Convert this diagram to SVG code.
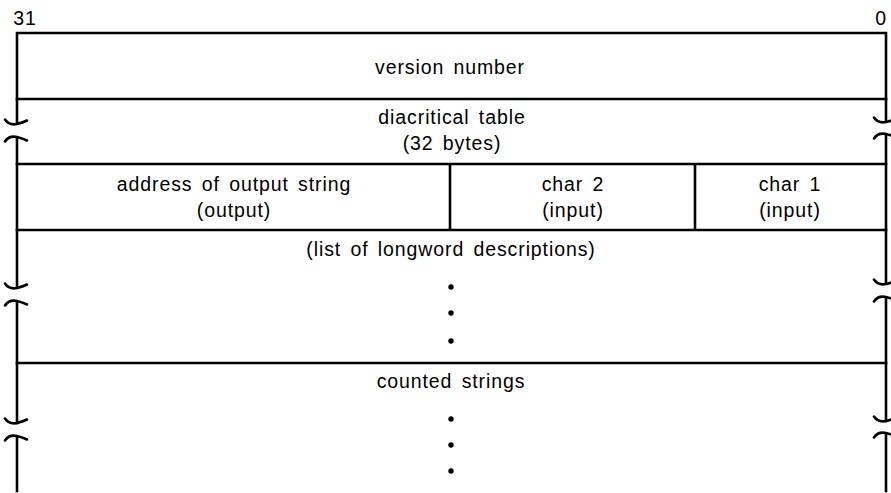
<svg xmlns="http://www.w3.org/2000/svg" width="891" height="493" viewBox="0 0 891 493">
<style>
.ln{stroke:#000;stroke-width:2.6;fill:none;stroke-linecap:square}
.br{stroke:#000;stroke-width:2.6;fill:none;stroke-linecap:round}
text{font-family:"Liberation Sans",Arial,sans-serif;font-size:19.5px;letter-spacing:0.9px;word-spacing:3px;fill:#000;text-anchor:middle}
.dot{fill:#000}
</style>
<defs>
<path id="tt" d="M-12,-3.5 C-9,1 -5,2 0,1 C4,0 7,-1 10,-2.5"/>
<path id="tb" d="M-12,3.5 C-9,-1 -5,-2 0,-1 C4,0 7,1 10,2.5"/>
</defs>
<text x="25" y="25">31</text>
<text x="881" y="25">0</text>
<g id="frame">
<path class="ln" d="M17,123 V33 H886 V121"/>
<path class="ln" d="M17,138 V287"/>
<path class="ln" d="M17,302 V423"/>
<path class="ln" d="M17,437 V491"/>
<path class="ln" d="M886,135 V283"/>
<path class="ln" d="M886,298 V421"/>
<path class="ln" d="M886,434 V491"/>
<use href="#tt" class="br" x="17" y="123"/>
<use href="#tb" class="br" x="17" y="138"/>
<use href="#tt" class="br" x="17" y="287"/>
<use href="#tb" class="br" x="17" y="302"/>
<use href="#tt" class="br" x="17" y="422"/>
<use href="#tb" class="br" x="17" y="437"/>
<use href="#tt" class="br" x="886" y="121"/>
<use href="#tb" class="br" x="886" y="135"/>
<use href="#tt" class="br" x="886" y="283"/>
<use href="#tb" class="br" x="886" y="298"/>
<use href="#tt" class="br" x="886" y="420"/>
<use href="#tb" class="br" x="886" y="434"/>
<path class="ln" d="M17,99 H886 M17,164 H886 M17,230 H886 M17,363 H886 M450,164 V230 M695,164 V230"/>
</g>
<g id="version"><text x="450" y="74">version number</text></g>
<g id="diacritical"><text x="452" y="124">diacritical table</text><text x="452" y="150">(32 bytes)</text></g>
<g id="address"><text x="234" y="191">address of output string</text><text x="234" y="217">(output)</text></g>
<g id="char2"><text x="573" y="191">char 2</text><text x="573" y="217">(input)</text></g>
<g id="char1"><text x="790" y="191">char 1</text><text x="790" y="217">(input)</text></g>
<g id="list"><text x="451" y="256">(list of longword descriptions)</text>
<circle class="dot" cx="451" cy="287" r="2.7"/><circle class="dot" cx="451" cy="313" r="2.7"/><circle class="dot" cx="451" cy="341" r="2.7"/></g>
<g id="counted"><text x="451" y="388">counted strings</text>
<circle class="dot" cx="451" cy="419" r="2.7"/><circle class="dot" cx="451" cy="445" r="2.7"/><circle class="dot" cx="451" cy="471" r="2.7"/></g>
</svg>
